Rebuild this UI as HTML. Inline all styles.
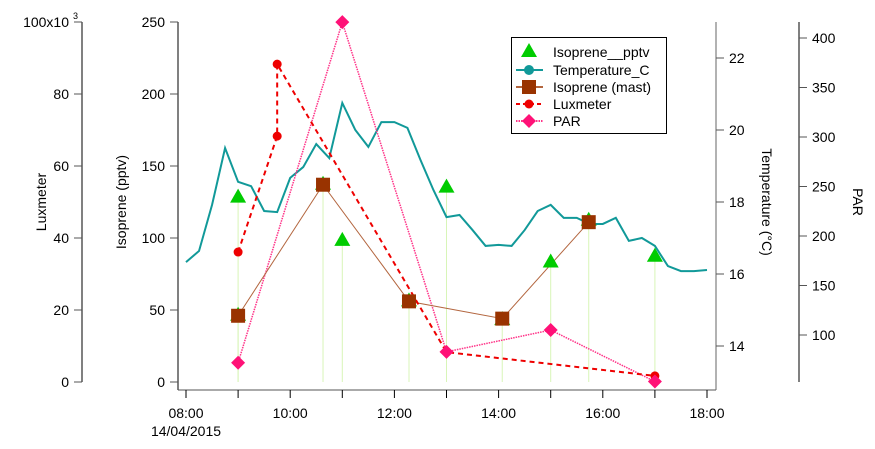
<!DOCTYPE html>
<html><head><meta charset="utf-8"><style>
body{margin:0;background:#fff}
svg{display:block;font-family:"Liberation Sans",sans-serif}
</style></head><body>
<svg id="chart" width="875" height="449" viewBox="0 0 875 449"></svg>
<script>
const isoTimes=[9.0,9.0,10.63,11.0,12.28,13.0,14.07,15.0,15.73,17.0];
const isoVals=[128,46,137,98,56,135,43,83,112,87];
const mastTimes=[9.0,10.63,12.28,14.07,15.73];
const mastVals=[46,137,56,44,111];
const luxTimes=[9.0,9.75,9.75,13.0,17.0];
const luxVals=[36.1,68.3,88.3,8.3,1.7];
const parTimes=[9.0,11.0,13.0,15.0,17.0];
const parVals=[72,416,83,105,53];
const tempVals=[16.33,16.64,17.92,19.5,18.56,18.44,17.75,17.72,18.67,18.97,19.61,19.22,20.75,20.0,19.53,20.22,20.22,20.06,19.17,18.33,17.58,17.64,17.22,16.78,16.81,16.78,17.22,17.75,17.92,17.56,17.56,17.39,17.39,17.56,16.92,17.0,16.78,16.22,16.08,16.08,16.11];
const isoTicks=[0,50,100,150,200,250];
const luxTicks=[0,20,40,60,80,100];
const tempTicks=[14,16,18,20,22];
const parTicks=[100,150,200,250,300,350,400];
const timeTicks=[8,10,12,14,16,18];
const timeLabels=["08:00","10:00","12:00","14:00","16:00","18:00"];

const NS="http://www.w3.org/2000/svg";
const svg=document.getElementById('chart');
function mk(tag,attrs,parent){const e=document.createElementNS(NS,tag);for(const k in attrs)e.setAttribute(k,attrs[k]);(parent||svg).appendChild(e);return e;}
const X=t=>186+(t-8)*52.1;
const Yiso=v=>382-v*1.44;
const Ylux=v=>382-v*3.6;
const Ytemp=v=>58+(22-v)*36;
const Ypar=v=>335-(v-100)*0.99;

function line(x1,y1,x2,y2,st,name){const l=mk('line',{x1,y1,x2,y2,stroke:st||'#000','stroke-width':1});

return l;}
function text(x,y,s,anchor,name,extra){const t=mk('text',Object.assign({x,y,'font-size':14,'text-anchor':anchor||'middle',fill:'#000'},extra||{}));t.textContent=s;

return t;}

// Luxmeter axis
line(82,22,82,382,'#000','luxmeter-axis');
luxTicks.forEach(v=>{line(74,Ylux(v),82,Ylux(v),'#555','luxmeter-tick');text(69,Ylux(v)+5,v===100?'100x10':String(v),'end','luxmeter-tick-label');});
text(73,19,'3','start','luxmeter-exponent',{'font-size':9});
text(46,202,'Luxmeter','middle','luxmeter-axis-title',{transform:'rotate(-90 46 202)'});
// Isoprene axis
line(178,22,178,390,'#000','isoprene-axis');
isoTicks.forEach(v=>{line(170,Yiso(v),178,Yiso(v),'#555','isoprene-tick');text(165,Yiso(v)+5,String(v),'end','isoprene-tick-label');});
text(126,202,'Isoprene (pptv)','middle','isoprene-axis-title',{transform:'rotate(-90 126 202)'});
// Time axis
line(178,390,716,390,'#555','time-axis');
for(let h=8;h<=18;h++){line(X(h),390,X(h),398,'#000','time-tick');}
timeTicks.forEach((h,i)=>text(X(h),418,timeLabels[i],'middle','time-tick-label'));
text(186,436,'14/04/2015','middle','time-date-label');
// Temperature axis
line(716,22,716,390,'#666','temperature-axis');
tempTicks.forEach(v=>{line(716,Ytemp(v),724,Ytemp(v),'#555','temperature-tick');text(729,Ytemp(v)+5,String(v),'start','temperature-tick-label');});
text(762,202,'Temperature (°C)','middle','temperature-axis-title',{transform:'rotate(90 762 202)'});
// PAR axis
line(799,22,799,382,'#000','par-axis');
parTicks.forEach(v=>{line(799,Ypar(v),807,Ypar(v),'#555','par-tick');text(812,Ypar(v)+5,String(v),'start','par-tick-label');});
text(853,202,'PAR','middle','par-axis-title',{transform:'rotate(90 853 202)'});

// drop lines
isoTimes.forEach((t,i)=>line(X(t),Yiso(isoVals[i]),X(t),382,'#d8f5b8','isoprene-drop-line'));
// temperature
const tp=mk('polyline',{points:tempVals.map((v,i)=>X(8+i*0.25)+','+Ytemp(v)).join(' '),fill:'none',stroke:'#119999','stroke-width':2});


// PAR
const pp=mk('polyline',{points:parTimes.map((t,i)=>X(t)+','+Ypar(parVals[i])).join(' '),fill:'none',stroke:'#ff3388','stroke-width':1.5,'stroke-dasharray':'1.5 1'});


// mast
const mp=mk('polyline',{points:mastTimes.map((t,i)=>X(t)+','+Yiso(mastVals[i])).join(' '),fill:'none',stroke:'#b3663f','stroke-width':1});


// lux
const lp=mk('polyline',{points:luxTimes.map((t,i)=>X(t)+','+Ylux(luxVals[i])).join(' '),fill:'none',stroke:'#ee0000','stroke-width':2,'stroke-dasharray':'5 4'});



function tri(x,y,name){const p=mk('polygon',{points:`${x},${y-9} ${x-8},${y+5} ${x+8},${y+5}`,fill:'#00cc00'});

}
function sq(x,y,name){const r=mk('rect',{x:x-7,y:y-7,width:14,height:14,fill:'#993300'});

}
function dot(x,y,name){const c=mk('circle',{cx:x,cy:y,r:4.5,fill:'#ee0000'});

}
function dia(x,y,name){const p=mk('polygon',{points:`${x},${y-7} ${x+7},${y} ${x},${y+7} ${x-7},${y}`,fill:'#ff1177'});

}

isoTimes.forEach((t,i)=>tri(X(t),Yiso(isoVals[i]),'isoprene-point'));
mastTimes.forEach((t,i)=>sq(X(t),Yiso(mastVals[i]),'isoprene-mast-point'));
luxTimes.forEach((t,i)=>dot(X(t),Ylux(luxVals[i]),'luxmeter-point'));
parTimes.forEach((t,i)=>dia(X(t),Ypar(parVals[i]),'par-point'));

// legend
const lg=mk('rect',{x:511.5,y:37.5,width:155,height:96,fill:'#fff',stroke:'#000','stroke-width':1});


const rows=[52,70,87,104,121];
tri(529,rows[0],'legend-isoprene-marker');
line(516,rows[1],543,rows[1],'#119999','legend-temperature-line').setAttribute('stroke-width',2);
mk('circle',{cx:529,cy:rows[1],r:5,fill:'#119999'});
line(516,rows[2],543,rows[2],'#b3663f','legend-mast-line').setAttribute('stroke-width',2);
sq(529,rows[2],'legend-mast-marker');
const ll=line(516,rows[3],543,rows[3],'#ee0000','legend-luxmeter-line');ll.setAttribute('stroke-width',2);ll.setAttribute('stroke-dasharray','4 3');
dot(529,rows[3],'legend-luxmeter-marker');
const pl=line(516,rows[4],543,rows[4],'#ff3388','legend-par-line');pl.setAttribute('stroke-width',2);pl.setAttribute('stroke-dasharray','1.5 1');
dia(529,rows[4],'legend-par-marker');
['Isoprene__pptv','Temperature_C','Isoprene (mast)','Luxmeter','PAR'].forEach((s,i)=>text(553,rows[i]+5,s,'start','legend-entry'));
</script>
</body></html>
